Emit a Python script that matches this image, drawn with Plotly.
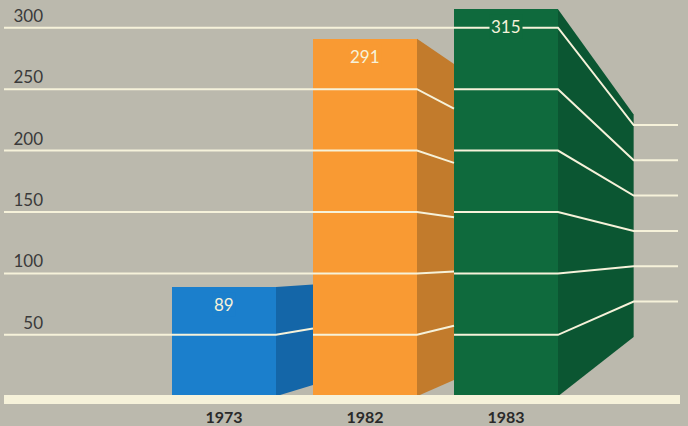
import plotly.graph_objects as go

# ---- data ----
years = ["1973", "1982", "1983"]
values = [89, 291, 315]
grid_values = [50, 100, 150, 200, 250, 300]
grid_labels = ["50", "100", "150", "200", "250", "300"]

# ---- styling ----
front_colors = ["#1b7fcc", "#f99a33", "#0f6a3d"]
side_colors = ["#1466a8", "#c27b2c", "#0b5632"]
bg = "#bbb9ad"
cream = "#f6f2da"

W, H = 688, 426
# pixel geometry of the layout (style)
x0_px, px_per_x = 224.0, 141.0          # pixel of x=0, pixels per category step
zero_px, px_per_v = 400.0, 1.24         # pixel of value 0, pixels per unit
dom_l, dom_r = 4.0, 680.0               # x-axis domain in pixels
bar_w = 104.0 / px_per_x
vp_x = (736.0 - x0_px) / px_per_x       # vanishing point (data coords)
vp_v = (zero_px - 259.0) / px_per_v
depth = 0.425                           # depth fraction toward vanishing point

xmin = (dom_l - x0_px) / px_per_x
xmax = (dom_r - x0_px) / px_per_x
vmin = (zero_px - H) / px_per_v
vmax = zero_px / px_per_v

xs_idx = list(range(len(years)))

fig = go.Figure()

# front faces
fig.add_trace(go.Bar(
    x=xs_idx, y=values, width=bar_w,
    marker=dict(color=front_colors, line=dict(width=0)),
    hoverinfo="skip", showlegend=False,
))

# side depths (clipped by the next bar's front)
depths = []
for i, v in enumerate(values):
    R = i + bar_w / 2
    if i < len(values) - 1:
        Lnext = (i + 1) - bar_w / 2
        t = min(depth, (Lnext - R) / (vp_x - R))
    else:
        t = depth
    depths.append(t)

# side faces
for i, v in enumerate(values):
    R = i + bar_w / 2
    t = depths[i]
    Rb = R + t * (vp_x - R)
    top_b = v + t * (vp_v - v)
    bot_b = 0 + t * (vp_v - 0)
    fig.add_trace(go.Scatter(
        x=[R, Rb, Rb, R, R], y=[v, top_b, bot_b, 0, v],
        mode="lines", fill="toself", fillcolor=side_colors[i],
        line=dict(width=0, color=side_colors[i]),
        hoverinfo="skip", showlegend=False,
    ))

# gridlines following the bar surfaces
gx, gy = [], []
for g in grid_values:
    start = xmin
    ended = False
    for i, v in enumerate(values):
        if g <= v:
            R = i + bar_w / 2
            t = depths[i]
            Rb = R + t * (vp_x - R)
            gb = g + t * (vp_v - g)
            gx += [start, R, Rb]
            gy += [g, g, gb]
            if i == len(values) - 1:
                gx.append(xmax - 2.0 / px_per_x)
                gy.append(gb)
                ended = True
            gx.append(None)
            gy.append(None)
            start = (i + 1) - bar_w / 2
    if not ended:
        gx += [start, xmax, None]
        gy += [g, g, None]

fig.add_trace(go.Scatter(
    x=gx, y=gy, mode="lines",
    line=dict(color=cream, width=2),
    hoverinfo="skip", showlegend=False,
))

# value labels
for i, v in enumerate(values):
    fig.add_annotation(
        x=i, y=v, text=str(v), showarrow=False,
        yanchor="top", yshift=-5,
        font=dict(family="Lato", size=17, color=cream),
        bgcolor=front_colors[i], borderpad=1,
    )

fig.update_layout(
    width=W, height=H,
    margin=dict(l=0, r=0, t=0, b=0),
    paper_bgcolor=bg, plot_bgcolor=bg,
    showlegend=False,
    bargap=0,
    xaxis=dict(
        domain=[dom_l / W, dom_r / W],
        range=[xmin, xmax],
        tickvals=xs_idx, ticktext=years,
        showgrid=False, zeroline=False,
        showline=True, linewidth=9, linecolor=cream,
        ticks="", anchor="free",
        position=(H - 402.5) / H,
        tickfont=dict(family="Lato", size=16, color="#2a2a2a", weight="bold"),
        fixedrange=True,
    ),
    yaxis=dict(
        domain=[0, 1],
        range=[vmin, vmax],
        tickvals=grid_values, ticktext=grid_labels,
        showgrid=False, zeroline=False, showline=False,
        ticks="", anchor="free", position=43 / W, side="left",
        ticklabelshift=-12, ticklabelstandoff=0,
        tickfont=dict(family="Lato", size=17, color="#3a3a3a"),
        fixedrange=True,
    ),
)

fig.write_html("out.html")
